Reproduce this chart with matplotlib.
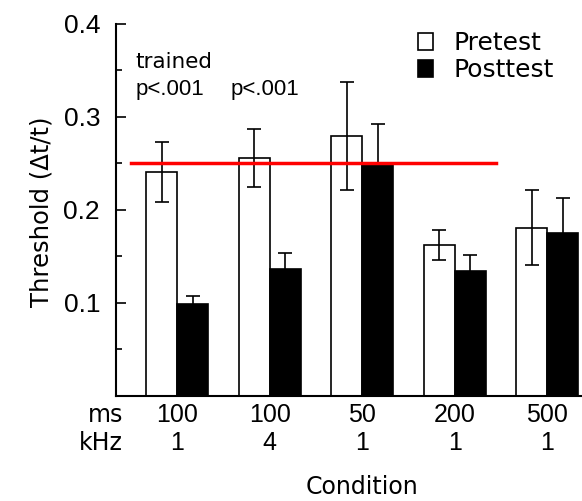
import matplotlib.pyplot as plt
from matplotlib.patches import Patch
from matplotlib.ticker import MultipleLocator
import numpy as np

plt.rcParams['font.family'] = ['Liberation Sans', 'DejaVu Sans']
WORD_FONT = ['DejaVu Sans']

ms_labels = ['100', '100', '50', '200', '500']
khz_labels = ['1', '4', '1', '1', '1']
pretest = [0.241, 0.256, 0.280, 0.162, 0.181]
pretest_err = [0.032, 0.031, 0.058, 0.016, 0.040]
posttest = [0.099, 0.137, 0.251, 0.134, 0.175]
posttest_err = [0.009, 0.017, 0.042, 0.018, 0.038]
ref_level = 0.25

fig = plt.figure(figsize=(5.82, 5.01), dpi=100)
ax = fig.add_axes([0.1993, 0.2096, 0.80, 0.7425])

x = np.arange(len(ms_labels))
w = 1 / 3
ekw = dict(ecolor='black', elinewidth=1.2, capsize=5, capthick=1.2)

ax.bar(x - w / 2, pretest, w, color='white', edgecolor='black', linewidth=1.2,
       yerr=pretest_err, error_kw=ekw)
ax.bar(x + w / 2, posttest, w, color='black', edgecolor='black', linewidth=1.2,
       yerr=posttest_err, error_kw=ekw)

# reference line
ax.plot([-0.5, 3.45], [ref_level, ref_level], color='red', linewidth=2.5, zorder=5)

ax.set_ylim(0, 0.4)
ax.set_xlim(-0.66, 4.37)
ax.yaxis.set_minor_locator(MultipleLocator(0.05))
ax.set_yticks([0.1, 0.2, 0.3, 0.4])
ax.set_yticklabels(['0.1', '0.2', '0.3', '0.4'])
ax.tick_params(axis='y', which='major', direction='in', length=7, width=1.2, labelsize=19, pad=11.5)
ax.tick_params(axis='y', which='minor', direction='in', length=4, width=1.2)
ax.set_xticks([])
ax.spines['top'].set_visible(False)
ax.spines['right'].set_visible(False)
ax.spines['left'].set_linewidth(1.5)
ax.spines['bottom'].set_linewidth(1.5)

trans = ax.get_xaxis_transform()
for i in range(len(ms_labels)):
    ax.text(x[i], -0.051, ms_labels[i], transform=trans, ha='center', va='center', fontsize=18)
    ax.text(x[i], -0.126, khz_labels[i], transform=trans, ha='center', va='center', fontsize=18)
ax.text(-0.584, -0.051, 'ms', transform=trans, ha='right', va='center', fontsize=17, family=WORD_FONT)
ax.text(-0.584, -0.126, 'kHz', transform=trans, ha='right', va='center', fontsize=17, family=WORD_FONT)

ax.text(2, -0.245, 'Condition', transform=trans, ha='center', va='center', fontsize=17, family=WORD_FONT)
fig.text(0.072, 0.577, 'Threshold (Δt/t)', rotation=90, ha='center', va='center',
         fontsize=17.5, family=WORD_FONT)

ax.text(-0.04, 0.359, 'trained', ha='center', va='center', fontsize=15.5, family=WORD_FONT)
ax.text(-0.075, 0.330, 'p<.001', ha='center', va='center', fontsize=16)
ax.text(0.95, 0.330, 'p<.001', ha='center', va='center', fontsize=16)

handles = [Patch(facecolor='white', edgecolor='black', linewidth=1.2, label='Pretest'),
           Patch(facecolor='black', edgecolor='black', linewidth=1.2, label='Posttest')]
ax.legend(handles=handles, loc='upper left', bbox_to_anchor=(0.648, 0.98), frameon=False,
          prop={'family': WORD_FONT, 'size': 18}, handlelength=0.6, handleheight=0.65,
          handletextpad=0.85, labelspacing=0.1, borderaxespad=0, borderpad=0)

fig.savefig('out.png', dpi=100)
